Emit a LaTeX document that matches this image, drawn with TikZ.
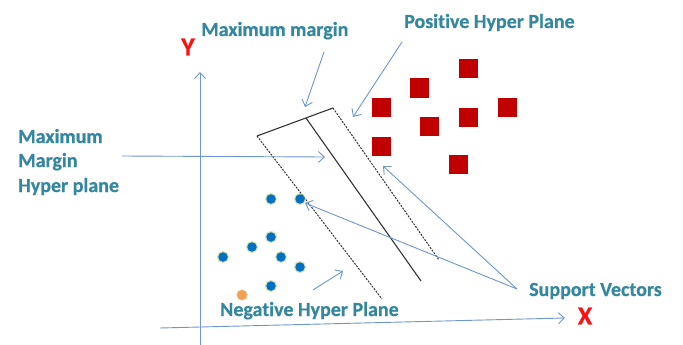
\documentclass[tikz,border=0pt]{standalone}
\usepackage{fontspec}
\setmainfont{Carlito}[Ligatures=NoCommon,BoldFeatures={FakeBold=0.6}]
\usetikzlibrary{arrows.meta}
\definecolor{labelteal}{HTML}{35879F}
\definecolor{arrowblue}{HTML}{6E96CF}
\definecolor{sqred}{HTML}{C00000}
\definecolor{dotblue}{HTML}{0070C0}
\definecolor{dotglow}{HTML}{B8CC7E}
\definecolor{dotorange}{HTML}{F4A050}
\definecolor{axred}{HTML}{FF1010}
\definecolor{planegray}{HTML}{333333}
\tikzset{
  lbl/.style={anchor=base west, inner sep=0pt, text=labelteal, font=\bfseries\fontsize{20}{24}\selectfont},
  axlbl/.style={inner sep=0pt, text=axred, font=\bfseries\fontsize{26}{28}\selectfont},
  axis/.style={draw=arrowblue, line width=0.9pt, -{Straight Barb[length=6pt,width=11pt,line width=0.9pt]}},
  ptr/.style={draw=arrowblue, line width=0.9pt, -{Straight Barb[length=6pt,width=11pt,line width=0.9pt]}},
  sq/.style={rectangle, fill=sqred, minimum size=19pt, inner sep=0pt},
  dot/.style={circle, fill=dotblue, minimum size=9.5pt, inner sep=0pt,
    preaction={draw=dotglow, line width=2.6pt, opacity=0.55}},
  odot/.style={circle, fill=dotorange, minimum size=10pt, inner sep=0pt,
    preaction={draw=dotglow, line width=1.6pt, opacity=0.4}},
  solidplane/.style={draw=planegray, line width=1.1pt},
  dashplane/.style={draw=planegray, line width=1pt, dash pattern=on 2pt off 1.2pt},
}
\begin{document}
\begin{tikzpicture}[x=1pt,y=-1pt]
\useasboundingbox (0,0) rectangle (683,345);
% axes
\coordinate (yb) at (200,345);
\coordinate (yt) at (200,72);
\coordinate (xb) at (160,328);
\coordinate (xt) at (565,318);
\draw[axis] (yb) -- (yt);
\draw[axis] (xb) -- (xt);
\node[axlbl] (ylab) at (188,47) {Y};
\node[axlbl] (xlab) at (585,316) {X};
% margin planes
\coordinate (A) at (257,136);
\coordinate (B) at (306,118);
\coordinate (C) at (333,108);
\coordinate (A2) at (382,299);
\coordinate (B2) at (421,281);
\coordinate (C2) at (439,260);
\draw[solidplane] (A) -- (C);
\draw[solidplane] (B) -- (B2);
\draw[dashplane] (A) -- (A2);
\draw[dashplane] (C) -- (C2);
% squares
\node[sq] (s1) at (468,69) {};
\node[sq] (s2) at (419,88) {};
\node[sq] (s3) at (381,107) {};
\node[sq] (s4) at (507,107) {};
\node[sq] (s5) at (468,117) {};
\node[sq] (s6) at (429,126) {};
\node[sq] (s7) at (381,146) {};
\node[sq] (s8) at (458,164) {};
% dots
\node[dot] (d1) at (271,199) {};
\node[dot] (d2) at (300,199) {};
\node[dot] (d3) at (271,237) {};
\node[dot] (d4) at (252,247) {};
\node[dot] (d5) at (223,257) {};
\node[dot] (d6) at (281,257) {};
\node[dot] (d7) at (300,267) {};
\node[dot] (d8) at (271,286) {};
\node[odot] (o1) at (242,295) {};
% labels
\node[lbl] (mm) at (201,36) {Maximum margin};
\node[lbl] (php) at (404,28) {Positive Hyper Plane};
\node[lbl] (mh1) at (18,143) {Maximum};
\node[lbl] (mh2) at (18,167) {Margin};
\node[lbl] (mh3) at (18,192) {Hyper plane};
\node[lbl] (nhp) at (220,316) {Negative Hyper Plane};
\node[lbl] (sv) at (529,296) {Support Vectors};
% pointers
\coordinate (mmS) at (324,52);
\coordinate (mmT) at (305,107);
\coordinate (phS) at (402,42);
\coordinate (phT) at (353,117);
\coordinate (mhS) at (122,156);
\coordinate (mhT) at (325,157);
\coordinate (nhS) at (313,290);
\coordinate (nhT) at (343,271);
\coordinate (svS) at (517,289);
\coordinate (svT1) at (305,203);
\coordinate (svT2) at (383,166);
\draw[ptr] (mmS) -- (mmT);
\draw[ptr] (phS) -- (phT);
\draw[ptr] (mhS) -- (mhT);
\draw[ptr] (nhS) -- (nhT);
\draw[ptr] (svS) -- (svT1);
\draw[ptr] (svS) -- (svT2);
\end{tikzpicture}
\end{document}
